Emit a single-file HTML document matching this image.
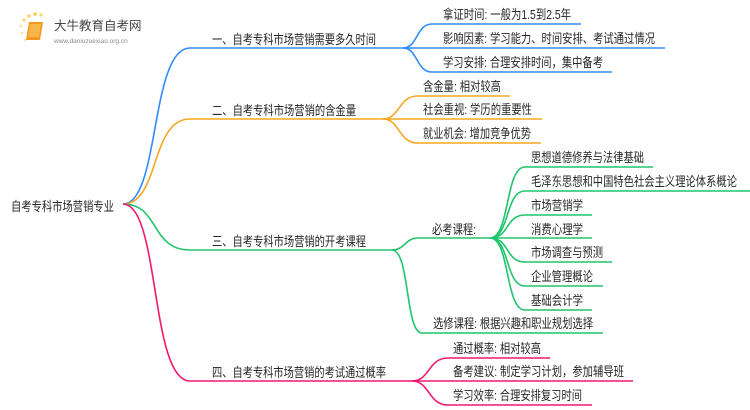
<!DOCTYPE html>
<html><head><meta charset="utf-8"><style>
html,body{margin:0;padding:0;background:#fff;}
svg{display:block;}
text{font-family:"Liberation Sans","Noto Sans CJK SC",sans-serif;fill:#262626;font-size:12.8px;}
</style></head><body>
<svg width="750" height="410" viewBox="0 0 750 410" xmlns="http://www.w3.org/2000/svg">
<g>
<circle cx="24" cy="20" r="1.6" fill="#fbd36b"/><circle cx="29" cy="16" r="1.8" fill="#fbd36b"/><circle cx="35" cy="14" r="1.8" fill="#fbc94d"/><circle cx="41" cy="15" r="1.6" fill="#fbd36b"/><circle cx="21" cy="26" r="1.4" fill="#fde2a0"/><circle cx="22" cy="33" r="1.3" fill="#fde2a0"/><circle cx="25" cy="40" r="1.2" fill="#fde2a0"/>
<path d="M29 22 L43 22 L40 40 L26 40 Z" fill="#f39a1e"/>
<path d="M30 24 L41 24 L39 37 L28 37 Z" fill="#f7b64a"/>
<text x="54" y="30" style="font-size:12.5px;fill:#444">大牛教育自考网</text>
<text x="54" y="43" style="font-size:6.5px;fill:#888">www.daniuzuexiao.org.cn</text>
</g>
<g fill="none" stroke-width="1.6">
<path d="M123 204 C160 204 150 48 190 48 L403 48" stroke="#2f8cff"/>
<path d="M123 204 C160 204 150 119 190 119 L383 119" stroke="#f5a623"/>
<path d="M123 204 C160 204 150 250 190 250 L392 250" stroke="#1fc46d"/>
<path d="M123 204 C160 204 150 381 190 381 L412 381" stroke="#f0196e"/>
<path d="M403 48 C418 48 416 24 432 24 L581 24" stroke="#2f8cff"/>
<path d="M403 48 L665 48" stroke="#2f8cff"/>
<path d="M403 48 C418 48 416 72 432 72 L612 72" stroke="#2f8cff"/>
<path d="M383 119 C400 119 398 96 418 96 L510 96" stroke="#f5a623"/>
<path d="M383 119 L542 119" stroke="#f5a623"/>
<path d="M383 119 C400 119 398 143 418 143 L541 143" stroke="#f5a623"/>
<path d="M392 250 C405 250 405 238 418 238 L490 238" stroke="#1fc46d"/>
<path d="M392 250 C410 250 405 333 422 333 L603 333" stroke="#1fc46d"/>
<path d="M490 238 C510 238 505 167 525 167 L653 167" stroke="#1fc46d"/>
<path d="M490 238 C510 238 505 191 525 191 L750 191" stroke="#1fc46d"/>
<path d="M490 238 C510 238 505 215 525 215 L592 215" stroke="#1fc46d"/>
<path d="M490 238 L592 238" stroke="#1fc46d"/>
<path d="M490 238 C510 238 505 262 525 262 L612 262" stroke="#1fc46d"/>
<path d="M490 238 C510 238 505 286 525 286 L603 286" stroke="#1fc46d"/>
<path d="M490 238 C510 238 505 310 525 310 L592 310" stroke="#1fc46d"/>
<path d="M412 381 C430 381 428 358 448 358 L550 358" stroke="#f0196e"/>
<path d="M412 381 L633 381" stroke="#f0196e"/>
<path d="M412 381 C430 381 428 405 448 405 L592 405" stroke="#f0196e"/>
</g>
<text x="11" y="211" textLength="103" lengthAdjust="spacingAndGlyphs">自考专科市场营销专业</text>
<text x="212" y="44" textLength="164" lengthAdjust="spacingAndGlyphs">一、自考专科市场营销需要多久时间</text>
<text x="212" y="115" textLength="144" lengthAdjust="spacingAndGlyphs">二、自考专科市场营销的含金量</text>
<text x="212" y="246" textLength="154" lengthAdjust="spacingAndGlyphs">三、自考专科市场营销的开考课程</text>
<text x="212" y="377" textLength="174" lengthAdjust="spacingAndGlyphs">四、自考专科市场营销的考试通过概率</text>

<text x="443" y="19" textLength="128" lengthAdjust="spacingAndGlyphs">拿证时间: 一般为1.5到2.5年</text>
<text x="443" y="43" textLength="212" lengthAdjust="spacingAndGlyphs">影响因素: 学习能力、时间安排、考试通过情况</text>
<text x="443" y="67" textLength="160" lengthAdjust="spacingAndGlyphs">学习安排: 合理安排时间，集中备考</text>

<text x="423" y="91" textLength="78" lengthAdjust="spacingAndGlyphs">含金量: 相对较高</text>
<text x="423" y="114" textLength="109" lengthAdjust="spacingAndGlyphs">社会重视: 学历的重要性</text>
<text x="423" y="138" textLength="108" lengthAdjust="spacingAndGlyphs">就业机会: 增加竞争优势</text>

<text x="432" y="234" textLength="44" lengthAdjust="spacingAndGlyphs">必考课程:</text>
<text x="433" y="328" textLength="160" lengthAdjust="spacingAndGlyphs">选修课程: 根据兴趣和职业规划选择</text>

<text x="531" y="162" textLength="113" lengthAdjust="spacingAndGlyphs">思想道德修养与法律基础</text>
<text x="531" y="186" textLength="206" lengthAdjust="spacingAndGlyphs">毛泽东思想和中国特色社会主义理论体系概论</text>
<text x="531" y="210" textLength="52" lengthAdjust="spacingAndGlyphs">市场营销学</text>
<text x="531" y="234" textLength="52" lengthAdjust="spacingAndGlyphs">消费心理学</text>
<text x="531" y="257" textLength="72" lengthAdjust="spacingAndGlyphs">市场调查与预测</text>
<text x="531" y="281" textLength="62" lengthAdjust="spacingAndGlyphs">企业管理概论</text>
<text x="531" y="305" textLength="52" lengthAdjust="spacingAndGlyphs">基础会计学</text>

<text x="453" y="353" textLength="88" lengthAdjust="spacingAndGlyphs">通过概率: 相对较高</text>
<text x="453" y="376" textLength="171" lengthAdjust="spacingAndGlyphs">备考建议: 制定学习计划，参加辅导班</text>
<text x="453" y="400" textLength="129" lengthAdjust="spacingAndGlyphs">学习效率: 合理安排复习时间</text>
</svg>
</body></html>
